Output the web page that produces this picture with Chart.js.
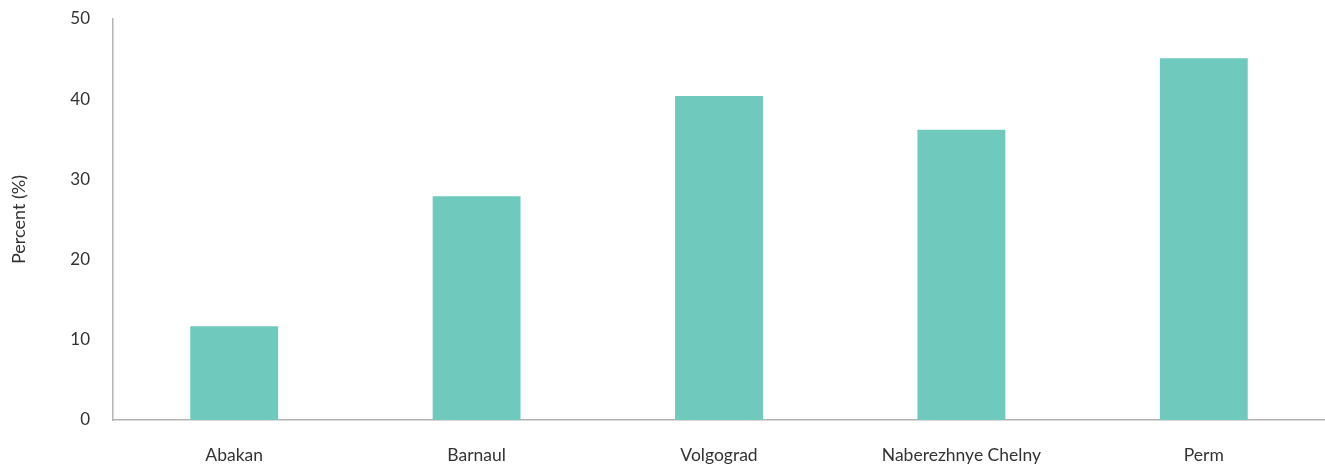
<!DOCTYPE html>
<html>
<head>
<meta charset="utf-8">
<script src="https://cdn.jsdelivr.net/npm/chart.js@4"></script>
<style>
html,body{margin:0;padding:0;background:#fff;}
#wrap{width:1325px;height:468px;position:relative;}
</style>
</head>
<body>
<div id="wrap"><canvas id="c" width="1325" height="468"></canvas></div>
<script>
const categories = ["Abakan", "Barnaul", "Volgograd", "Naberezhnye Chelny", "Perm"];
const percentValues = [11.7, 27.9, 40.4, 36.2, 45.1];
const yTickValues = [0, 10, 20, 30, 40, 50];
const yAxisTitle = "Percent (%)";

const FONT = "Lato, 'Open Sans', sans-serif";
const TEXT = "#333333";
const AXIS = "#b3b3b3";

new Chart(document.getElementById("c"), {
  type: "bar",
  data: {
    labels: categories,
    datasets: [{
      data: percentValues,
      backgroundColor: "#6fc9bd",
      borderWidth: 0,
      categoryPercentage: 0.725,
      barPercentage: 0.5
    }]
  },
  options: {
    responsive: false,
    animation: false,
    devicePixelRatio: 1,
    layout: { padding: { top: 19, right: 0, left: 0, bottom: 0 } },
    plugins: { legend: { display: false }, tooltip: { enabled: false } },
    scales: {
      x: {
        grid: { display: false, drawTicks: false },
        border: { display: true, color: AXIS, width: 1.5 },
        ticks: { color: TEXT, font: { family: FONT, size: 17.5 }, padding: 25, maxRotation: 0 },
        afterFit: (s) => { s.height = 48; s.paddingLeft = 0; s.paddingRight = 0; }
      },
      y: {
        min: 0, max: 50,
        afterBuildTicks: (s) => { s.ticks = yTickValues.map(v => ({ value: v })); },
        grid: { display: false, drawTicks: false },
        border: { display: true, color: AXIS, width: 1.5 },
        ticks: { color: TEXT, font: { family: FONT, size: 17 }, padding: 23 },
        title: { display: true, text: yAxisTitle, color: TEXT, font: { family: FONT, size: 18 }, padding: { top: 8, bottom: 0 } },
        afterFit: (s) => { s.width = 113; s.paddingTop = 0; s.paddingBottom = 0; }
      }
    }
  }
});
</script>
</body>
</html>
